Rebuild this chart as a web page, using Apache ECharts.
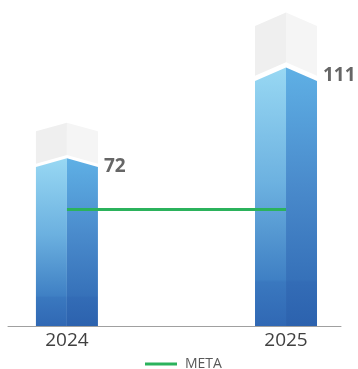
<!DOCTYPE html>
<html>
<head>
<meta charset="utf-8">
<script src="https://cdn.jsdelivr.net/npm/echarts@6/dist/echarts.min.js"></script>
<style>
  html, body { margin: 0; padding: 0; background: #ffffff; }
  #chart { width: 358px; height: 369px; }
</style>
</head>
<body>
<div id="chart"></div>
<script>
// Yearly results against the target
const years = ['2024', '2025'];
const results = [72, 111];
const metaValue = 50;
const metaName = 'META';

const FONT = '"Open Sans", "Liberation Sans", sans-serif';
const BAR_HALF = 31;        // half width of each prism, px
const CAP_RATIO = 1.213;    // grey cap reaches this multiple of the value

function blueFace(light) {
  return new echarts.graphic.LinearGradient(0, 0, 0, 1, light ? [
    { offset: 0, color: '#98d8f3' },
    { offset: 0.45, color: '#6cb1e0' },
    { offset: 0.82, color: '#3f80c4' },
    { offset: 0.83, color: '#3a78bf' },
    { offset: 1, color: '#3068b4' }
  ] : [
    { offset: 0, color: '#5fb0e5' },
    { offset: 0.45, color: '#4a8bcc' },
    { offset: 0.82, color: '#3671b9' },
    { offset: 0.83, color: '#336cb6' },
    { offset: 1, color: '#2c62ae' }
  ]);
}

function renderPrism(params, api) {
  const x = api.value(0);
  const v = api.value(1);
  const top = api.coord([x, v]);
  const base = api.coord([x, 0]);
  const capTop = api.coord([x, v * CAP_RATIO]);
  const cx = top[0];
  const apexY = top[1];
  const baseY = base[1];
  const h = baseY - apexY;
  const depth = h * 0.052;
  const gap = h * 0.02;
  const gY = capTop[1];
  const capBottom = apexY - gap;
  const L = cx - BAR_HALF, R = cx + BAR_HALF;
  return {
    type: 'group',
    children: [
      { type: 'polygon', shape: { points: [[L, gY + depth], [cx, gY], [cx, capBottom], [L, capBottom + depth]] },
        style: { fill: '#efefef' } },
      { type: 'polygon', shape: { points: [[cx, gY], [R, gY + depth], [R, capBottom + depth], [cx, capBottom]] },
        style: { fill: '#f5f5f5' } },
      { type: 'polygon', shape: { points: [[L, apexY + depth], [cx, apexY], [cx, baseY], [L, baseY]] },
        style: { fill: blueFace(true) } },
      { type: 'polygon', shape: { points: [[cx, apexY], [R, apexY + depth], [R, baseY], [cx, baseY]] },
        style: { fill: blueFace(false) } },
      { type: 'text', x: R + 6, y: apexY + 8,
        style: { text: String(v), fill: '#666666', font: 'bold 19px ' + FONT,
                 textAlign: 'left', textVerticalAlign: 'middle' } }
    ]
  };
}

const chart = echarts.init(document.getElementById('chart'), null, { renderer: 'canvas' });
chart.setOption({
  animation: false,
  backgroundColor: '#ffffff',
  grid: { left: 8, right: 17, top: 0, bottom: 43 },
  legend: {
    data: [{ name: metaName, icon: 'rect' }],
    left: 145,
    top: 357,
    padding: 0,
    itemWidth: 32,
    itemHeight: 3,
    itemGap: 10,
    textStyle: { color: '#595959', fontSize: 14, fontFamily: FONT, padding: [0, 0, 0, 3] }
  },
  xAxis: {
    type: 'value',
    min: -0.269,
    max: 1.251,
    splitLine: { show: false },
    axisTick: { show: false },
    axisLine: { show: true, lineStyle: { color: '#a0a0a0', width: 1 } },
    axisLabel: {
      customValues: years.map((_, i) => i),
      formatter: (val) => years[Math.round(val)] || '',
      color: '#404040',
      fontSize: 19,
      fontFamily: FONT,
      margin: 5
    }
  },
  yAxis: {
    type: 'value',
    min: 0,
    max: 140,
    show: false,
    splitLine: { show: false }
  },
  series: [
    {
      type: 'custom',
      name: 'results',
      renderItem: renderPrism,
      clip: false,
      data: results.map((v, i) => [i, v]),
      z: 2
    },
    {
      type: 'line',
      name: metaName,
      symbol: 'none',
      lineStyle: { color: '#2bb25c', width: 3 },
      itemStyle: { color: '#2bb25c' },
      z: 5,
      data: years.map((_, i) => ({
        value: [i, metaValue],
        label: i === years.length - 1 ? {
          show: true,
          position: 'right',
          distance: 38,
          formatter: String(metaValue),
          color: '#2bb25c',
          fontWeight: 'bold',
          fontSize: 19,
          fontFamily: FONT
        } : { show: false }
      }))
    }
  ]
});
</script>
</body>
</html>
